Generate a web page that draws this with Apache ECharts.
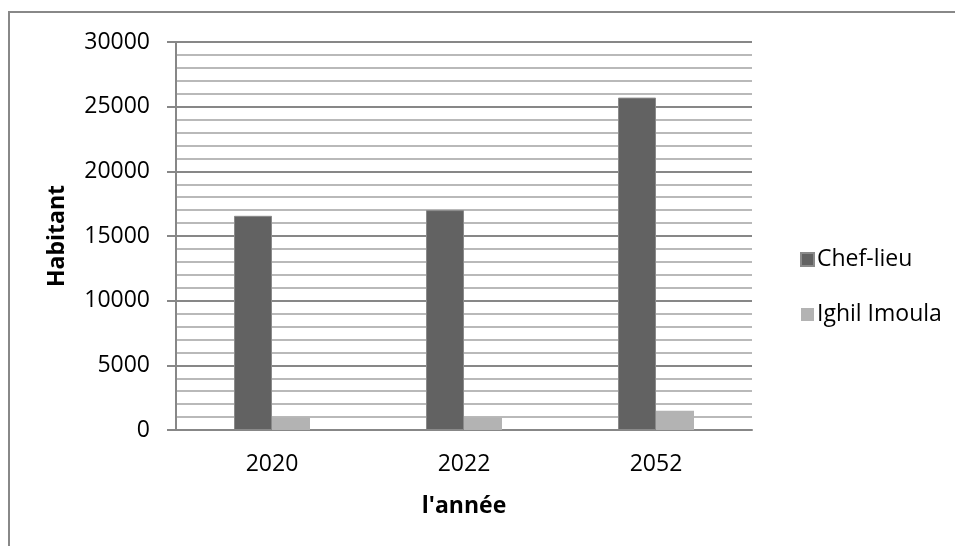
<!DOCTYPE html>
<html>
<head>
<meta charset="utf-8">
<script src="https://cdn.jsdelivr.net/npm/echarts@6/dist/echarts.min.js"></script>
<style>
  html, body { margin: 0; padding: 0; background: #fff; }
  #chart { width: 955px; height: 546px; }
</style>
</head>
<body>
<div id="chart"></div>
<script>
// data
const years = ['2020', '2022', '2052']
const chefLieu = [16560, 17000, 25700]
const ighilImoula = [975, 975, 1490]

const font = '"Open Sans", sans-serif'

const myChart = echarts.init(document.getElementById('chart'))

myChart.setOption({
  animation: false,
  backgroundColor: '#fff',
  textStyle: { fontFamily: font },
  graphic: [{
    type: 'rect',
    shape: { x: 9, y: 12, width: 960, height: 560 },
    style: { fill: 'none', stroke: '#888', lineWidth: 2 },
    silent: true
  }],
  grid: { left: 176, right: 203, top: 42, bottom: 116 },
  legend: {
    orient: 'vertical',
    left: 795,
    top: 243,
    itemWidth: 13,
    itemHeight: 13,
    itemGap: 32,
    icon: 'rect',
    textStyle: { fontFamily: font, fontSize: 23, color: '#000', padding: [0, 0, 0, -2] },
    data: ['Chef-lieu', 'Ighil Imoula']
  },
  xAxis: {
    type: 'category',
    data: years,
    name: "l'année",
    nameLocation: 'middle',
    nameGap: 65,
    nameTextStyle: { fontFamily: font, fontSize: 23, fontWeight: 'bold', color: '#000' },
    axisLine: { lineStyle: { color: '#878787', width: 2 } },
    axisTick: { show: false },
    axisLabel: { fontFamily: font, fontSize: 23, color: '#000', margin: 23 }
  },
  yAxis: {
    type: 'value',
    min: 0,
    max: 30000,
    interval: 5000,
    name: 'Habitant',
    nameLocation: 'middle',
    nameGap: 107,
    nameTextStyle: { fontFamily: font, fontSize: 23, fontWeight: 'bold', color: '#000' },
    axisLine: { show: true, lineStyle: { color: '#878787', width: 2 } },
    axisTick: { show: true, length: 9, lineStyle: { color: '#878787', width: 2 } },
    axisLabel: { fontFamily: font, fontSize: 23, color: '#000', margin: 26, formatter: v => String(v) },
    splitLine: { lineStyle: { color: '#878787', width: 2 } },
    minorTick: { show: false, splitNumber: 5 },
    minorSplitLine: { show: true, lineStyle: { color: '#b9b9b9', width: 2 } }
  },
  series: [
    {
      name: 'Chef-lieu',
      type: 'bar',
      data: chefLieu,
      barWidth: 38,
      barGap: '0%',
      itemStyle: { color: '#626262', borderColor: '#8a8a8a', borderWidth: 1 }
    },
    {
      name: 'Ighil Imoula',
      type: 'bar',
      data: ighilImoula,
      barWidth: 38,
      itemStyle: { color: '#b3b3b3' }
    }
  ]
})
</script>
</body>
</html>
